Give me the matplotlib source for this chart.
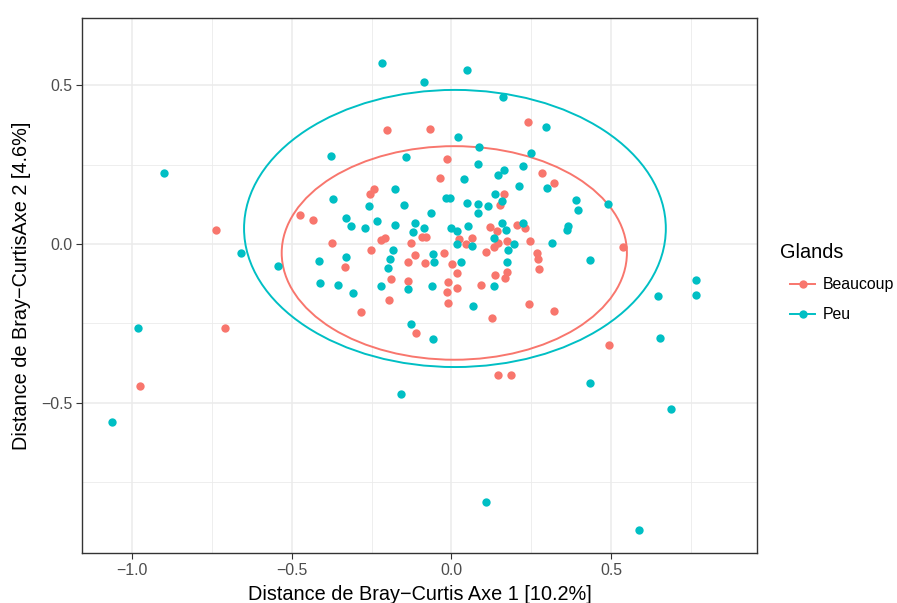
import matplotlib.pyplot as plt
from matplotlib.patches import Ellipse
from matplotlib.lines import Line2D
from matplotlib.ticker import MultipleLocator, FuncFormatter

plt.rcParams['font.family'] = ['Liberation Sans', 'DejaVu Sans']

# PCoA coordinates (Bray-Curtis), one list per group
beaucoup_x = [-0.739, -0.711, -0.977, -0.202, -0.243, -0.255, -0.475, -0.435,
              -0.374, -0.222, -0.208, -0.252, -0.335, -0.189, -0.196, -0.283,
              -0.068, -0.014, -0.037, 0.164, 0.153, -0.092, -0.081, -0.127,
              0.122, 0.143, 0.024, 0.063, 0.045, 0.145, 0.132, 0.174,
              0.107, -0.114, -0.135, -0.083, -0.024, 0.001, 0.018, 0.174,
              0.167, 0.136, -0.012, 0.019, -0.015, 0.092, -0.010, -0.137,
              0.128, -0.111, 0.146, 0.187, 0.241, 0.283, 0.322, 0.205,
              0.230, 0.247, 0.268, 0.272, 0.275, 0.243, 0.320, 0.538, 0.494]
beaucoup_y = [0.044, -0.265, -0.447, 0.358, 0.173, 0.157, 0.091, 0.076,
              0.004, 0.013, 0.018, -0.018, -0.072, -0.109, -0.177, -0.214,
              0.363, 0.269, 0.208, 0.159, 0.123, 0.023, 0.021, 0.002,
              0.053, 0.040, 0.015, 0.020, 0.000, 0.002, -0.010, 0.010,
              -0.024, -0.035, -0.056, -0.060, -0.028, -0.064, -0.092, -0.087,
              -0.107, -0.097, -0.119, -0.139, -0.150, -0.129, -0.186, -0.116,
              -0.234, -0.279, -0.412, -0.411, 0.384, 0.222, 0.191, 0.061,
              0.049, 0.010, -0.027, -0.048, -0.078, -0.189, -0.212, -0.008, -0.318]

peu_x = [-0.902, -1.063, -0.983, -0.661, -0.544, -0.219, -0.377, -0.176,
         -0.372, -0.258, -0.149, -0.329, -0.314, -0.270, -0.233, -0.178,
         -0.184, -0.193, -0.199, -0.415, -0.329, -0.412, -0.354, -0.307,
         -0.222, -0.158, -0.141, 0.082, 0.145, 0.164, 0.038, 0.136,
         0.157, -0.016, -0.006, 0.049, 0.082, 0.115, 0.084, -0.064,
         -0.115, -0.121, -0.085, -0.002, 0.019, 0.051, 0.159, 0.170,
         0.134, 0.019, 0.065, 0.178, -0.058, -0.056, 0.030, 0.174,
         -0.135, -0.060, 0.132, 0.068, -0.127, -0.057, 0.109, -0.085,
         0.050, 0.161, 0.020, 0.087, 0.295, 0.249, 0.225, 0.212,
         0.298, 0.391, 0.396, 0.490, 0.366, 0.362, 0.225, 0.195,
         0.316, 0.433, 0.768, 0.768, 0.649, 0.653, 0.435, 0.688, 0.587]
peu_y = [0.224, -0.560, -0.263, -0.029, -0.068, 0.570, 0.277, 0.172,
         0.141, 0.120, 0.123, 0.081, 0.057, 0.051, 0.073, 0.060,
         -0.019, -0.047, -0.075, -0.054, -0.040, -0.124, -0.128, -0.153,
         -0.132, -0.472, 0.274, 0.251, 0.216, 0.233, 0.205, 0.158,
         0.136, 0.144, 0.146, 0.130, 0.126, 0.120, 0.097, 0.097,
         0.065, 0.039, 0.049, 0.051, 0.041, 0.057, 0.065, 0.044,
         0.020, 0.000, -0.006, -0.019, -0.031, -0.057, -0.057, -0.058,
         -0.142, -0.132, -0.132, -0.194, -0.252, -0.300, -0.812, 0.509,
         0.547, 0.463, 0.337, 0.306, 0.367, 0.287, 0.245, 0.182,
         0.177, 0.138, 0.107, 0.127, 0.058, 0.043, 0.067, -0.001,
         0.002, -0.050, -0.114, -0.159, -0.165, -0.295, -0.436, -0.518, -0.899]

groups = ['Beaucoup', 'Peu']
group_x = {'Beaucoup': beaucoup_x, 'Peu': peu_x}
group_y = {'Beaucoup': beaucoup_y, 'Peu': peu_y}
colors = {'Beaucoup': '#F8766D', 'Peu': '#00BFC4'}

# 95% ellipses: centre and half-axes
ellipse_centre = {'Beaucoup': (0.009, -0.028), 'Peu': (0.011, 0.049)}
ellipse_half = {'Beaucoup': (0.541, 0.336), 'Peu': (0.661, 0.436)}

fig = plt.figure(figsize=(8.97, 6.03), dpi=100)
ax = fig.add_axes([0.0914, 0.083, 0.7526, 0.887])

for g in groups:
    ax.scatter(group_x[g], group_y[g], s=36, color=colors[g], linewidths=0, zorder=3)
    cx, cy = ellipse_centre[g]
    hw, hh = ellipse_half[g]
    ax.add_patch(Ellipse((cx, cy), 2 * hw, 2 * hh, fill=False,
                         edgecolor=colors[g], linewidth=1.4, zorder=2))

ax.set_xlim(-1.158, 0.958)
ax.set_ylim(-0.972, 0.711)

ax.xaxis.set_major_locator(MultipleLocator(0.5))
ax.yaxis.set_major_locator(MultipleLocator(0.5))
ax.xaxis.set_minor_locator(MultipleLocator(0.25))
ax.yaxis.set_minor_locator(MultipleLocator(0.25))
fmt = FuncFormatter(lambda v, p: f'{v:.1f}'.replace('-', '\u2212'))
ax.xaxis.set_major_formatter(fmt)
ax.yaxis.set_major_formatter(fmt)

ax.grid(True, which='major', color='#EBEBEB', linewidth=1.1, zorder=0)
ax.grid(True, which='minor', color='#EBEBEB', linewidth=0.6, zorder=0)
ax.set_axisbelow(True)
ax.tick_params(which='minor', length=0)
ax.tick_params(which='major', length=4, width=0.8, color='#333333',
               labelcolor='#4D4D4D', labelsize=11.4, pad=3)
for s in ax.spines.values():
    s.set_color('#333333')
    s.set_linewidth(1.0)

ax.set_xlabel('Distance de Bray\u2212Curtis Axe 1 [10.2%]', fontsize=14.3, labelpad=5)
ax.set_ylabel('Distance de Bray\u2212CurtisAxe 2 [4.6%]', fontsize=14.3, labelpad=7)

# legend: title drawn on its own, keys indented under it
fig.text(0.8696, 0.582, 'Glands', fontsize=14.3, ha='left', va='center')
handles = [Line2D([0], [0], color=colors[g], marker='o', markersize=6,
                  markeredgewidth=0, linewidth=1.4) for g in groups]
fig.legend(handles, groups, loc='upper left', bbox_to_anchor=(0.8807, 0.540),
           frameon=False, fontsize=11.4, handlelength=1.6, labelspacing=0.95,
           handletextpad=0.44, borderpad=0, borderaxespad=0)

fig.savefig('out.png', dpi=100)
